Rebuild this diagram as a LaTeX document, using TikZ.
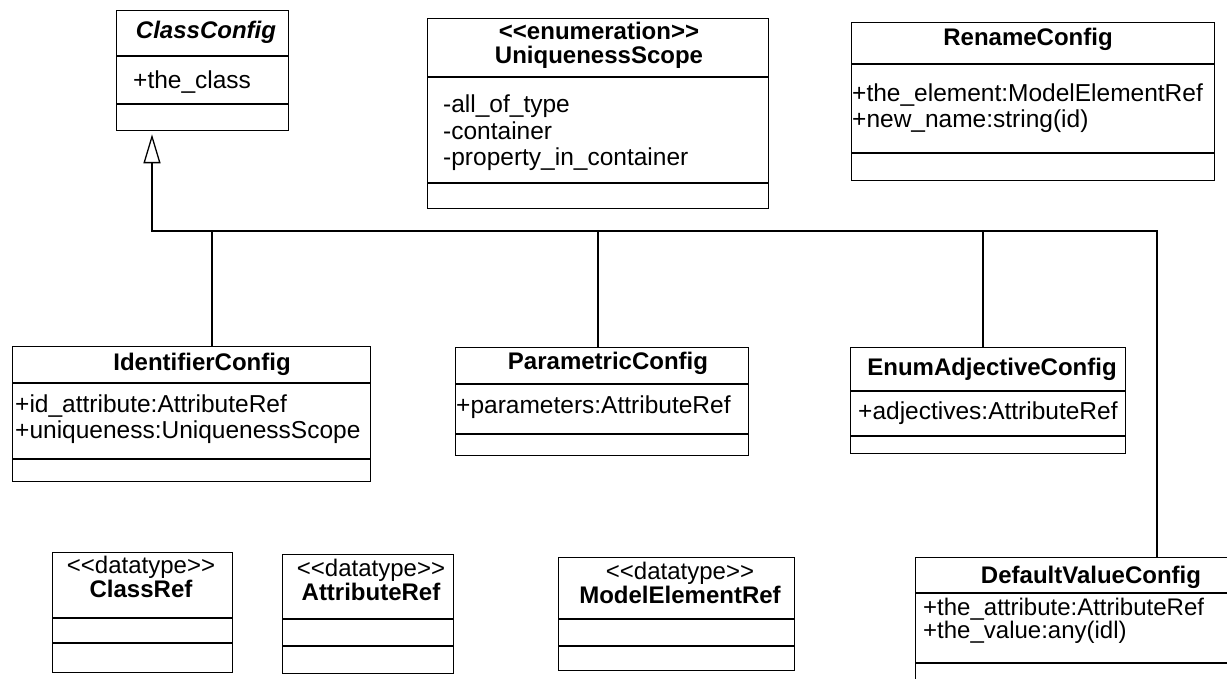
\documentclass[tikz,border=0pt]{standalone}
\usepackage{fontspec}
\newfontfamily\umlfont{Liberation Sans}
\usetikzlibrary{arrows.meta}
\tikzset{
  umlbox/.style={draw, line width=1.3pt, anchor=north west, inner sep=0pt},
  umltitle/.style={font=\umlfont\bfseries\fontsize{24}{24}\selectfont, align=center, inner sep=0pt},
  umlattr/.style={font=\umlfont\fontsize{24.5}{26.5}\selectfont, align=left, anchor=west, inner sep=0pt},
  umlline/.style={line width=1.3pt},
  genarrow/.style={line width=1.3pt, -{Triangle[open, length=29pt, width=17pt]}, shorten >=3pt}
}
\begin{document}
\begin{tikzpicture}[x=1pt, y=-1pt]
            \useasboundingbox (0,0) rectangle (1227,679);
            \clip (0,0) rectangle (1227,679);

            \node[umlbox, minimum width=172pt, minimum height=120pt] (classcfg) at (116,10) {};
            \node[umlbox, minimum width=341pt, minimum height=190pt] (uniqscope) at (427,18) {};
            \node[umlbox, minimum width=363pt, minimum height=158pt] (renamecfg) at (851,22) {};
            \node[umlbox, minimum width=358pt, minimum height=135pt] (identcfg) at (12,346) {};
            \node[umlbox, minimum width=293pt, minimum height=108pt] (paramcfg) at (455,347) {};
            \node[umlbox, minimum width=275pt, minimum height=106pt] (enumadjcfg) at (850,347) {};
            \node[umlbox, minimum width=180pt, minimum height=120pt] (classref) at (52,552) {};
            \node[umlbox, minimum width=171pt, minimum height=119pt] (attrref) at (282,554) {};
            \node[umlbox, minimum width=236pt, minimum height=113pt] (modelref) at (558,557) {};
            \node[umlbox, minimum width=352pt, minimum height=140pt] (defvalcfg) at (915,557) {};

            \draw[umlline] (116,56) -- (288,56);
            \draw[umlline] (116,104) -- (288,104);
            \draw[umlline] (427,77) -- (768,77);
            \draw[umlline] (427,183) -- (768,183);
            \draw[umlline] (851,64) -- (1214,64);
            \draw[umlline] (851,153) -- (1214,153);
            \draw[umlline] (12,383) -- (370,383);
            \draw[umlline] (12,459) -- (370,459);
            \draw[umlline] (455,384) -- (748,384);
            \draw[umlline] (455,434) -- (748,434);
            \draw[umlline] (850,391) -- (1125,391);
            \draw[umlline] (850,436) -- (1125,436);
            \draw[umlline] (52,618) -- (232,618);
            \draw[umlline] (52,643) -- (232,643);
            \draw[umlline] (282,619) -- (453,619);
            \draw[umlline] (282,646) -- (453,646);
            \draw[umlline] (558,619) -- (794,619);
            \draw[umlline] (558,646) -- (794,646);
            \draw[umlline] (915,593) -- (1267,593);
            \draw[umlline] (915,663) -- (1267,663);

            \node[umltitle] (classcfgname) at (206,32) {\itshape ClassConfig};
            \node[umltitle] (uniqscopename) at (599,45) {<<enumeration>>\\UniquenessScope};
            \node[umltitle] (renamecfgname) at (1028,39) {RenameConfig};
            \node[umltitle] (identcfgname) at (202,364) {IdentifierConfig};
            \node[umltitle] (paramcfgname) at (608,363) {ParametricConfig};
            \node[umltitle] (enumadjcfgname) at (992,369) {EnumAdjectiveConfig};
            \node[umltitle] (classrefname) at (141,577) {{\mdseries <<datatype>>}\\ClassRef};
            \node[umltitle] (attrrefname) at (371,580) {{\mdseries <<datatype>>}\\AttributeRef};
            \node[umltitle] (modelrefname) at (680,583) {{\mdseries <<datatype>>}\\ModelElementRef};
            \node[umltitle] (defvalcfgname) at (1091,577) {DefaultValueConfig};

            \node[umlattr] (classcfgattr) at (133,82) {+the\_class};
            \node[umlattr] (uniqscopeattr) at (443,133) {-all\_of\_type\\-container\\-property\_in\_container};
            \node[umlattr] (renamecfgattr) at (852,108) {+the\_element:ModelElementRef\\+new\_name:string(id)};
            \node[umlattr] (identcfgattr) at (15,419) {+id\_attribute:AttributeRef\\+uniqueness:UniquenessScope};
            \node[umlattr] (paramcfgattr) at (456,407) {+parameters:AttributeRef};
            \node[umlattr] (enumadjcfgattr) at (858,413) {+adjectives:AttributeRef};
            \node[umlattr, font=\umlfont\fontsize{24}{22}\selectfont] (defvalcfgattr) at (923,621) {+the\_attribute:AttributeRef\\+the\_value:any(idl)};

            \coordinate (busL) at (152,231);
            \coordinate (busR) at (1157,231);
            \coordinate (b1) at (212,231);
            \coordinate (b2) at (598,231);
            \coordinate (b3) at (983,231);

            \draw[genarrow] (busR |- defvalcfg.north) -- (busR) -- (busL) -- (busL |- classcfg.south);
            \draw[umlline] (b1) -- (b1 |- identcfg.north);
            \draw[umlline] (b2) -- (b2 |- paramcfg.north);
            \draw[umlline] (b3) -- (b3 |- enumadjcfg.north);

        \end{tikzpicture}
\end{document}
